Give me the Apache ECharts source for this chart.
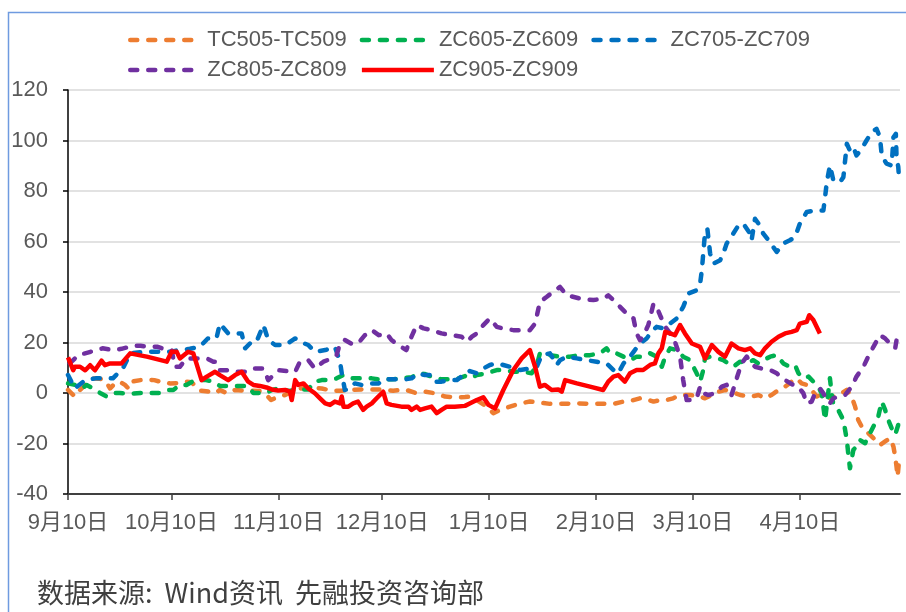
<!DOCTYPE html>
<html><head><meta charset="utf-8">
<script src="https://cdn.jsdelivr.net/npm/echarts@6/dist/echarts.min.js"></script>
<style>html,body{margin:0;padding:0;background:#fff}#c{width:906px;height:612px}</style>
</head><body><div id="c"></div>
<script>
// x = days since 9月10日
const seriesNames = ['TC505-TC509','ZC605-ZC609','ZC705-ZC709','ZC805-ZC809','ZC905-ZC909'];
const tickDays = [0,30,61,91,122,153,181,212];
const tickLabels = ['9月10日','10月10日','11月10日','12月10日','1月10日','2月10日','3月10日','4月10日'];
const footerText = '数据来源:  Wind资讯  先融投资咨询部';

const TC505 = [[0,1.2],[2,-1.4],[3.5,1.2],[5,3.2],[7.3,5.8],[9.3,5.6],[10.7,5.1],[12.2,1.8],[13.6,3.8],[15,4.5],[16.5,3.2],[17.5,1.8],[18.4,4.5],[21,5.1],[23,5.3],[25,5.1],[26.6,4.5],[29.5,3.8],[31.5,3.9],[33.4,4.5],[35.8,4.3],[38,1.0],[41,0.5],[42.6,-0.1],[44,1.2],[46,-0.1],[48.4,1.2],[50.3,1.0],[52.2,0.9],[55.6,0.8],[57.5,-0.8],[58.8,-2.8],[60.9,-1.4],[62.9,-0.8],[64.8,0.5],[67.2,1.8],[70.6,2.2],[73.5,1.8],[76.4,0.9],[79.3,0.9],[82,1.2],[85,1.4],[88,1.4],[91,1.4],[94.2,0.9],[97.6,1.4],[100.5,0.1],[103.4,0.5],[106.3,-0.1],[109.2,-1.4],[112,-1.7],[115,-1.6],[116.5,-1.4],[118.4,-2.8],[121.3,-5.4],[123.2,-8.0],[125.1,-6.7],[128,-5.4],[131,-4.1],[133.8,-3.4],[136.7,-3.8],[139.6,-4.3],[143.5,-4.3],[147.4,-4.1],[151.2,-4.3],[155.1,-4.3],[158,-4.3],[160.9,-3.4],[163.8,-2.8],[165.7,-2.1],[167.6,-2.5],[169.6,-3.4],[171.5,-2.8],[173.4,-2.8],[175.3,-2.1],[177.3,-0.8],[180.2,-0.8],[183.1,-1.4],[184.5,-2.1],[186.5,-0.8],[188.4,0.5],[190.3,1.2],[192.2,0.5],[194.7,-0.8],[198,-1.4],[200,-0.8],[201.9,-2.1],[203.8,-0.8],[205.8,1.2],[207.7,2.5],[209.6,4.5],[211.1,5.8],[212.5,3.8],[214,3.2],[215.4,1.2],[216.9,-1.4],[217.8,-0.8],[219.3,-0.1],[220.7,-2.1],[222.7,-0.8],[224.1,-0.1],[225.6,1.2],[227,-1.4],[228,-5.4],[228.9,-10.7],[230.4,-14.6],[231.8,-15.9],[233.3,-17.9],[235.2,-20.6],[236.7,-19.2],[238.1,-17.9],[239.1,-21.2],[239.6,-25.2],[240,-29.2],[240.3,-33.1],[240.8,-25.8]];

const ZC605 = [[0,3.8],[2,3.2],[4,1.8],[5.4,3.2],[7.3,1.8],[9.3,0],[11.2,-1.4],[13.1,0],[15,0],[18,-0.3],[21,0],[24,0],[27,0],[29.3,1.2],[30.5,1.2],[32.4,3.2],[34.3,3.2],[36,4.5],[37.5,5.1],[40,5.1],[42.1,4.5],[44,2.8],[46,2.8],[48.4,2.8],[52,2.8],[53.7,0],[57.5,0],[59,1.2],[61,1.8],[64,0.8],[66.7,1.4],[69.6,1.4],[71.5,4.5],[73.5,5.1],[76.4,5.1],[77.8,5.8],[79.7,7.1],[82,5.8],[85,5.8],[88,5.8],[90,5.4],[93.7,5.4],[96.6,5.8],[99.5,6.2],[101.5,7.8],[103.4,7.5],[105.8,6.2],[108.2,5.4],[111,5.4],[113,5.8],[115,6.7],[116.5,5.8],[118.4,7.1],[121.3,7.8],[124.2,9.1],[126.1,9.1],[129,8.4],[131.9,8.4],[134.3,7.8],[135.8,11.1],[136.7,15.7],[139.6,15],[142.5,14.4],[145.4,14.4],[148.3,15],[151.2,15],[154.1,15.7],[156,17.7],[157,15.7],[158.9,15.7],[160.9,14.4],[162.8,13],[164.7,14.4],[166.6,14.4],[168.6,15.7],[170.5,14.4],[172,10.4],[173,14.4],[174.4,17.7],[176.3,17],[178.2,14.4],[180.2,13],[182.1,7.8],[183.1,4.5],[184,9],[184.5,13.7],[186,14.4],[188,13.8],[189.8,13],[191.3,11.7],[192.7,10.4],[194.7,12.4],[196.6,12],[198.5,13],[200,11.7],[201.4,13],[203.4,14.4],[205.3,15],[207.2,11.7],[209.1,10.4],[210.6,11],[211.6,7.8],[213,5.8],[214.5,6.5],[215.9,4.5],[217.3,2.5],[218.3,-0.1],[219.3,-10.7],[220.2,-0.1],[220.7,5.8],[221.2,-0.1],[221.7,-4.7],[223.1,-6.7],[224.6,-10.7],[225.6,-18.6],[226,-23.8],[226.5,-29.8],[227.5,-22.5],[228.4,-21.2],[229.4,-18.6],[230.9,-19.9],[231.8,-17.3],[233.3,-13.3],[234.7,-9.4],[235.7,-3.4],[236.7,-6.7],[237.6,-10.7],[238.6,-14],[239.6,-16.6],[240.5,-12.6],[241,-8.7]];

const ZC705 = [[0,7.1],[2,1.8],[5,5.1],[8,5.8],[10,5.8],[13,5.8],[16,10],[18,15.7],[22,16.3],[25,16.3],[27,16.3],[29.6,16.3],[32,17],[35.3,17.5],[38.2,18.3],[40.5,21.6],[43,21.6],[44,27.5],[46.4,23.6],[49,23.6],[50.3,23.6],[51.3,17.7],[53.2,20.3],[54.6,20.3],[56.6,26.9],[58,21],[60,19],[63,19],[65.8,21.6],[67.2,20.3],[69.6,19],[71.5,16.3],[74.5,17],[77.3,18.3],[78.8,12.4],[79.3,7.8],[80.2,1.2],[81.7,1.8],[83.1,3.8],[85,3.2],[87,3.8],[90,3.8],[91.3,5.4],[95.7,5.4],[97.6,5.4],[99.5,5.8],[101.5,7.8],[103.4,7.1],[105.3,7.1],[106.3,4.5],[108.2,4.5],[110.2,5.1],[112.6,5.1],[114.5,7.1],[116.4,8.7],[118.4,7.8],[120.3,9.7],[122.2,11.1],[124.2,11.7],[126.1,11.1],[128,10.4],[131,9.1],[133.8,9.7],[135.8,10.4],[137.2,15],[139.6,15.7],[141.6,11.1],[142.5,13],[144.5,14.4],[147.4,13.7],[150.2,13],[153.1,12.4],[156,11.7],[158,9.1],[159.4,7.8],[160.9,11.7],[162.8,14.4],[164.2,17],[165.7,19.6],[167.6,21.6],[169,24.2],[170.5,26.2],[172.4,25.6],[174.4,27.5],[176.3,29.5],[178.2,34.1],[179.7,39.4],[182.1,40.7],[183.1,43.3],[183.6,48.6],[184,55.2],[184.5,63.1],[185.2,65.1],[186,55.2],[187,51.3],[188.9,52.6],[189.8,55.2],[190.8,59.2],[192.7,63.1],[194.2,66.4],[195.6,67.1],[197.6,63.1],[198,60.5],[199,69],[200,67.1],[201.4,63.1],[202.9,60.5],[204.3,57.8],[205.3,55.9],[207.2,59.2],[209.1,60.5],[210.6,61.8],[212,67.1],[214,71.7],[216.4,72.3],[218.8,72.3],[219.3,77.6],[219.8,83.5],[220.7,90.1],[221.7,84.2],[223.6,83.5],[224.6,85.5],[225.1,92.1],[225.6,98.7],[226.5,96],[227.5,97.4],[228.4,94.1],[229.9,96.7],[231.3,100],[232.8,103.3],[234.2,104.6],[235.2,101.3],[235.7,94.1],[237.1,90.8],[238.6,90.1],[239.1,101.3],[239.8,102.6],[240,93.4],[240.5,89.5],[240.8,83.5]];

const ZC805 = [[0.5,11.7],[3,15],[6.5,16.3],[10,17.7],[13,17],[15.5,17.5],[19,18.7],[21,18.7],[23,18.3],[26,18.3],[28.6,17],[30,17],[31,10.4],[32.4,10.4],[34.3,13.7],[37.3,13.7],[40.2,13.7],[42.1,12.4],[43,12.4],[44,9],[46,9],[48,8.4],[52,8.4],[54,9.7],[56.6,9.7],[58,5.1],[61,9],[65.8,8.4],[67.2,12.4],[69.6,13],[71.5,9.7],[74,12.4],[76.4,13.7],[77.8,15],[78.8,19.6],[80.2,21],[82,19.6],[84,19.6],[86,22.9],[88,24.9],[90,22.9],[92.3,23.6],[93.7,21],[95.7,19],[98,17],[99.5,22.3],[101,26.9],[103,25.6],[105.3,24.9],[108.2,23.6],[111,22.9],[114,22.3],[115.5,20.3],[117,22.3],[118.4,23.6],[120.3,26.9],[122.2,29.5],[124.2,26.2],[126.1,25.5],[129,24.9],[131.9,24.9],[133.8,24.9],[135.3,27.5],[136.7,36.1],[138.7,38.1],[141.1,40.7],[142.5,42],[144.5,38.7],[148.3,37.4],[152.2,36.8],[155.1,37.4],[156.5,38.7],[158,36.8],[159.9,34.1],[161.8,31.5],[163.8,29.5],[164.7,23.6],[165.7,20.9],[166.7,22.9],[168.1,26.9],[169.6,35.4],[170.5,34.1],[171.5,30.8],[173,26.2],[174.4,23.6],[175.8,20.3],[177.3,14.4],[178.2,5.1],[179.2,-2.8],[180.7,-2.8],[182.1,-2.1],[183.1,2.5],[184,-0.1],[185.5,-0.8],[187.4,-0.1],[189.4,2.5],[190.8,3.2],[192.2,-0.8],[193.7,5.8],[195.1,11.7],[196.6,14.4],[198,11.7],[199,10.4],[200.9,9.7],[203.4,9.1],[205.3,7.8],[207.7,5.1],[210.1,3.2],[211.5,2.5],[213,-0.1],[214,-4.1],[215.4,-3.4],[216.4,-0.1],[217.8,1.8],[218.8,-0.1],[219.8,-2.8],[220.7,-4.1],[221.7,-2.1],[223.1,-1.4],[225.1,-0.8],[227,2.5],[228.4,6.5],[230.4,10.4],[231.8,14.4],[233.3,18.3],[235.2,22.9],[236.7,21.6],[238.1,19.6],[239.6,17.7],[240,20.9],[240.8,18.3]];

const ZC905 = [[0,14.1],[1.5,9],[2,10.4],[3.5,10.4],[5,9],[6.4,11],[7.8,9],[9.7,12.8],[10.7,11],[12.2,11.7],[15.5,11.7],[18,15.7],[22.8,14.4],[28.6,12.4],[30,16.3],[31.5,16.3],[32.4,13.7],[34.8,16.3],[36.3,15.7],[38.7,5.1],[40.2,6.5],[42.6,8.4],[44,7.1],[46.4,5.1],[48.4,7.1],[50.3,8.4],[52.2,4.5],[53.7,3.2],[55.6,2.8],[57.5,2.2],[59,1.4],[60.9,1.0],[62.9,1.2],[64.3,0.5],[64.8,-2.8],[65.8,5.1],[66.7,3.2],[68.2,3.8],[69.6,1.8],[71.5,-0.1],[73,-2.1],[74.5,-4.1],[75.9,-4.7],[77.3,-3.4],[78.8,-4.1],[79.3,-1.4],[79.8,-5.4],[81.2,-5.4],[82.6,-4.1],[84,-3.4],[85.5,-6.7],[86.5,-5.4],[88,-4.1],[89.4,-2.1],[91.3,0.5],[92.3,-4.1],[93.7,-4.7],[96.6,-5.4],[98.6,-5.4],[99.5,-6.7],[101,-5.4],[102,-6.7],[103.4,-6.1],[105.3,-5.4],[106.8,-8],[108.2,-6.7],[109.7,-5.4],[112,-5.4],[115,-5.1],[116.5,-4.1],[118.4,-2.8],[120.3,-1.7],[121.8,-4.7],[123.7,-6.1],[126.1,1.2],[129,9.1],[131.4,13.7],[133.8,17],[135.3,10.4],[136.7,2.5],[138.1,3.2],[140.1,1.2],[142,1.4],[143,0.5],[144,5.1],[147.4,3.8],[151.2,2.5],[155,1.2],[156.5,4.5],[158,6.5],[159.4,7.1],[161.3,4.5],[162.8,7.8],[164.7,9.1],[166.6,9.1],[168.6,11.1],[170,11.7],[171,15.7],[172,17.7],[173,24.2],[174.4,23.6],[175.8,22.9],[177.3,26.9],[178.7,23.6],[180.7,19.6],[183.1,18.3],[184.5,13.7],[186.5,19],[188.4,16.3],[190.3,14.4],[192.2,19.6],[194.2,17.7],[196.1,17],[197.6,17.7],[199,15.7],[200.5,15],[201.9,17.7],[203.8,20.3],[205.8,22.3],[207.7,23.6],[209.6,24.2],[211.1,24.9],[212,27.5],[214,28.2],[214.7,30.8],[215.9,28.9],[217.8,23.6]];

const seriesData = [TC505, ZC605, ZC705, ZC805, ZC905];
const colors = ['#ED7D31','#00B050','#0070C0','#7030A0','#FF0000'];
const dashed = [true, true, true, true, false];

const chart = echarts.init(document.getElementById('c'), null, {renderer:'canvas'});
const legendText = {fontSize:22, color:'#595959', fontFamily:'Liberation Sans, Arial, sans-serif'};
const axisFont = 'Liberation Sans, Noto Sans CJK SC, sans-serif';
const lineStyleOf = i => ({color:colors[i], width:4.5, type: dashed[i] ? [7,11] : 'solid', cap: dashed[i] ? 'round':'butt', join:'round', opacity:1});
const legendItems = idx => idx.map(i => ({name:seriesNames[i], lineStyle:lineStyleOf(i), itemStyle:{opacity:0}}));

chart.setOption({
  animation:false,
  backgroundColor:'#fff',
  color: colors,
  grid:{left:68, right:6, top:90, bottom:118, containLabel:false},
  legend:[
    {data:legendItems([0,1,2]), left:123, top:24, itemWidth:72, itemHeight:14, itemGap:13, textStyle:legendText, itemStyle:{opacity:0}},
    {data:legendItems([3,4]), left:123, top:54, itemWidth:72, itemHeight:14, itemGap:13, textStyle:legendText, itemStyle:{opacity:0}}
  ],
  xAxis:{
    type:'value', min:0, max:241,
    axisLine:{onZero:false, lineStyle:{color:'#404040', width:2}},
    axisTick:{show:true, customValues:tickDays, length:6, lineStyle:{color:'#404040', width:1.5}},
    axisLabel:{customValues:tickDays, margin:18, fontSize:22, color:'#595959', fontFamily:axisFont,
      formatter:function(v){ const i = tickDays.indexOf(v); return i>=0 ? tickLabels[i] : ''; }},
    splitLine:{show:false}
  },
  yAxis:{
    type:'value', min:-40, max:120, interval:20,
    axisLine:{show:true, lineStyle:{color:'#000', width:1.5}},
    axisTick:{show:true, length:5, lineStyle:{color:'#000', width:1.5}},
    axisLabel:{margin:20, fontSize:22, color:'#595959', fontFamily:axisFont},
    splitLine:{show:true, lineStyle:{color:'#d9d9d9', width:1.5}}
  },
  series: seriesNames.map((n,i)=>({
    name:n, type:'line', data:seriesData[i], showSymbol:false, symbol:'none',
    lineStyle:lineStyleOf(i),
    itemStyle:{color:colors[i]},
    z: 2 + i
  })),
  graphic:[
    {type:'rect', left:6, top:10, shape:{x:0,y:0,width:1000,height:1000}, style:{fill:'none', stroke:'#6f9be0', lineWidth:1.5}, silent:true},
    {type:'text', left:37, top:579, style:{text:footerText, fontSize:27, fill:'#404040', fontFamily:'Noto Sans CJK SC, sans-serif'}}
  ]
});
</script>
</body></html>
